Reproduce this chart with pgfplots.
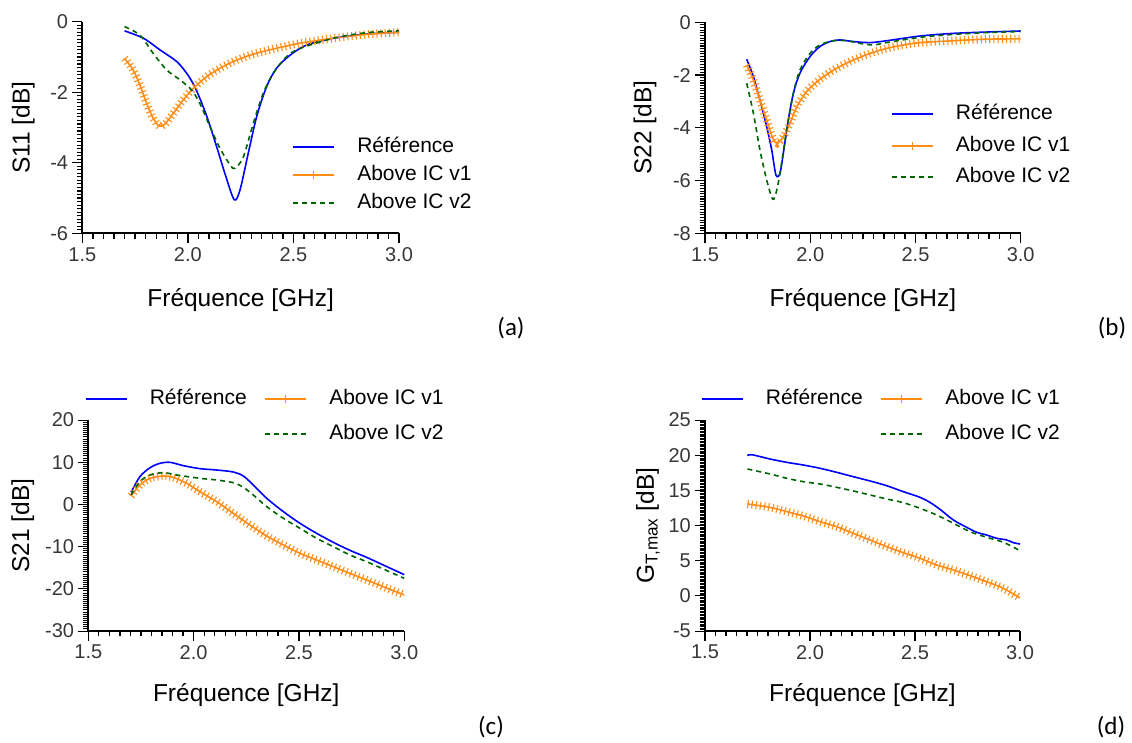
\documentclass[border=0pt]{standalone}
\usepackage{pgfplots}
\pgfplotsset{compat=1.18}
\usepackage{fontspec}
\setmainfont{Liberation Sans}
\newfontfamily\calib{Carlito}
\definecolor{cblue}{RGB}{0,0,255}
\definecolor{corange}{RGB}{255,140,20}
\definecolor{cgreen}{RGB}{0,100,0}
\definecolor{ctick}{RGB}{55,55,55}

\pgfplotsset{
 panel/.style={
  scale only axis, anchor=south west,
  axis x line*=bottom, axis y line*=left,
  xmin=1.5, xmax=3.0, xtick={1.5,2,2.5,3}, minor x tick num=9,
  /pgf/number format/assume math mode=true,
  xticklabel style={/pgf/number format/.cd, fixed, fixed zerofill, precision=1, /tikz/.cd, font=\fontsize{20}{24}\selectfont, text=ctick, inner sep=4pt},
  yticklabel style={font=\fontsize{20}{24}\selectfont, text=ctick, inner sep=4pt},
  xlabel={Fréquence [GHz]},
  label style={font=\fontsize{24.5}{29}\selectfont},
  xlabel style={at={(axis description cs:0.5,0)}, anchor=center},
  legend image code/.code={\draw[##1] (0pt,0pt) -- (41pt,0pt);},
  legend cell align=left,
  legend style={draw=none, fill=none, inner sep=0pt, font=\fontsize{21}{25}\selectfont, anchor=north west,
    nodes={inner sep=0pt, text height=15pt, text depth=4pt},
    /tikz/every odd column/.append style={column sep=22.5pt},
    /tikz/every even column/.append style={column sep=17.5pt}},
 },
 ref/.style={cblue, line width=1.6pt, smooth},
 vtwo/.style={cgreen, line width=1.6pt, dash pattern=on 5pt off 4pt, smooth},
 vone/.style={corange, line width=1.6pt, smooth,
   legend image code/.code={\draw[corange, line width=1.6pt] (0pt,0pt)--(41pt,0pt); \draw[corange,line width=1.1pt] (20.5pt,-4pt)--(20.5pt,4pt);}},
 vonebars/.style={corange, line width=8pt, dash pattern=on 1.1pt off 3.1pt, smooth, forget plot},
}

\begin{document}
\begin{tikzpicture}
\path[use as bounding box] (0pt,0pt) rectangle (1132pt,743pt);

% (a)
\begin{axis}[panel, at={(82.3pt,509.7pt)}, width=316.7pt, height=211.6pt,
  ymin=-6, ymax=0, ytick={-6,-4,-2,0}, minor y tick num=19,
  ylabel={S11 [dB]}, ylabel style={at={(axis description cs:-0.186,0.5)}, anchor=center},
  xlabel style={yshift=-67pt},
  legend style={at={(axis description cs:0.662,0.453)}, /tikz/row sep=9pt},
  tick align=outside, major tick length=10pt, minor tick length=5.5pt,
  x axis line style={line width=2pt, black}, y axis line style={line width=2pt, black},
  xtick style={black, line width=1.3pt}, ytick style={black, line width=1.1pt}]
\addplot[ref] coordinates {(1.70,-0.26)(1.79,-0.47)(1.868,-0.80)(1.947,-1.13)(2.0,-1.51)(2.04,-1.94)(2.09,-2.69)(2.136,-3.54)(2.18,-4.39)(2.22,-5.05)(2.247,-4.77)(2.286,-3.73)(2.326,-2.69)(2.373,-1.84)(2.42,-1.32)(2.484,-0.95)(2.563,-0.66)(2.689,-0.47)(2.847,-0.35)(3.0,-0.30)};
\addlegendentry{Référence}
\addplot[vone] coordinates {(1.70,-1.04)(1.741,-1.37)(1.773,-1.80)(1.805,-2.32)(1.836,-2.74)(1.865,-2.96)(1.892,-2.90)(1.931,-2.60)(1.978,-2.22)(2.026,-1.89)(2.089,-1.56)(2.152,-1.32)(2.215,-1.13)(2.294,-0.95)(2.373,-0.82)(2.452,-0.71)(2.531,-0.61)(2.689,-0.47)(2.847,-0.36)(3.0,-0.30)};
\addlegendentry{Above IC v1}
\addplot[vonebars] coordinates {(1.70,-1.04)(1.741,-1.37)(1.773,-1.80)(1.805,-2.32)(1.836,-2.74)(1.865,-2.96)(1.892,-2.90)(1.931,-2.60)(1.978,-2.22)(2.026,-1.89)(2.089,-1.56)(2.152,-1.32)(2.215,-1.13)(2.294,-0.95)(2.373,-0.82)(2.452,-0.71)(2.531,-0.61)(2.689,-0.47)(2.847,-0.36)(3.0,-0.30)};
\addplot[vtwo] coordinates {(1.70,-0.14)(1.773,-0.38)(1.836,-0.90)(1.90,-1.37)(1.963,-1.65)(2.018,-1.94)(2.057,-2.32)(2.105,-2.98)(2.152,-3.59)(2.20,-4.06)(2.223,-4.16)(2.263,-3.83)(2.31,-2.88)(2.357,-2.03)(2.405,-1.46)(2.468,-0.99)(2.531,-0.76)(2.689,-0.47)(2.847,-0.31)(3.0,-0.26)};
\addlegendentry{Above IC v2}
\end{axis}

% (b)
\begin{axis}[panel, at={(705pt,509.7pt)}, width=315.7pt, height=211pt,
  ymin=-8, ymax=0, ytick={-8,-6,-4,-2,0}, minor y tick num=19,
  ylabel={S22 [dB]}, ylabel style={at={(axis description cs:-0.190,0.5)}, anchor=center},
  xlabel style={yshift=-67pt},
  legend style={at={(axis description cs:0.588,0.610)}, /tikz/row sep=12.5pt},
  tick align=outside, major tick length=10pt, minor tick length=5.5pt,
  x axis line style={line width=2pt, black}, y axis line style={line width=2pt, black},
  xtick style={black, line width=1.3pt}, ytick style={black, line width=1.1pt}]
\addplot[ref] coordinates {(1.698,-1.40)(1.73,-2.06)(1.761,-2.95)(1.793,-3.96)(1.817,-4.84)(1.837,-5.79)(1.856,-5.73)(1.872,-4.97)(1.896,-3.70)(1.92,-2.69)(1.951,-1.93)(1.999,-1.30)(2.046,-0.92)(2.094,-0.73)(2.142,-0.67)(2.205,-0.73)(2.284,-0.77)(2.363,-0.70)(2.522,-0.52)(2.68,-0.42)(2.838,-0.37)(3.0,-0.33)};
\addlegendentry{Référence}
\addplot[vone] coordinates {(1.698,-1.62)(1.73,-2.19)(1.761,-2.95)(1.793,-3.70)(1.822,-4.40)(1.844,-4.59)(1.872,-4.34)(1.904,-3.83)(1.936,-3.20)(1.983,-2.63)(2.046,-2.16)(2.126,-1.74)(2.205,-1.43)(2.284,-1.18)(2.363,-0.99)(2.443,-0.86)(2.522,-0.77)(2.68,-0.70)(2.838,-0.64)(3.0,-0.63)};
\addlegendentry{Above IC v1}
\addplot[vonebars] coordinates {(1.698,-1.62)(1.73,-2.19)(1.761,-2.95)(1.793,-3.70)(1.822,-4.40)(1.844,-4.59)(1.872,-4.34)(1.904,-3.83)(1.936,-3.20)(1.983,-2.63)(2.046,-2.16)(2.126,-1.74)(2.205,-1.43)(2.284,-1.18)(2.363,-0.99)(2.443,-0.86)(2.522,-0.77)(2.68,-0.70)(2.838,-0.64)(3.0,-0.63)};
\addplot[vtwo] coordinates {(1.698,-2.31)(1.73,-3.45)(1.761,-4.84)(1.793,-5.98)(1.822,-6.71)(1.841,-6.36)(1.864,-5.35)(1.888,-4.08)(1.92,-2.69)(1.951,-1.81)(1.999,-1.18)(2.046,-0.86)(2.11,-0.70)(2.173,-0.70)(2.237,-0.80)(2.30,-0.86)(2.363,-0.77)(2.522,-0.57)(2.68,-0.46)(2.838,-0.39)(3.0,-0.35)};
\addlegendentry{Above IC v2}
\end{axis}

% (c)
\begin{axis}[panel, at={(88.3pt,112pt)}, width=316pt, height=211pt,
  ymin=-30, ymax=20, ytick={-30,-20,-10,0,10,20}, minor y tick num=19,
  ylabel={S21 [dB]}, ylabel style={at={(axis description cs:-0.207,0.5)}, anchor=center},
  xlabel style={yshift=-64pt},
  legend columns=2,
  legend style={at={(axis description cs:-0.012,1.146)}, /tikz/row sep=16pt},
  tick align=outside, major tick length=10pt, minor tick length=5.5pt,
  x axis line style={line width=2pt, black}, y axis line style={line width=2pt, black},
  xtick style={black, line width=1.3pt}, ytick style={black, line width=0.9pt}]
\addplot[ref] coordinates {(1.703,2.86)(1.745,6.57)(1.793,8.70)(1.84,9.73)(1.888,9.97)(1.951,9.18)(2.03,8.47)(2.109,8.15)(2.188,7.68)(2.236,6.73)(2.283,4.60)(2.347,1.44)(2.426,-1.72)(2.505,-4.49)(2.584,-6.86)(2.663,-8.99)(2.742,-10.89)(2.821,-12.54)(2.90,-14.36)(3.0,-16.65)};
\addlegendentry{Référence}
\addplot[vone] coordinates {(1.703,1.99)(1.745,4.60)(1.793,6.18)(1.856,6.73)(1.903,6.41)(1.967,4.99)(2.03,3.0)(2.109,0.65)(2.188,-2.12)(2.267,-4.88)(2.347,-7.49)(2.426,-9.62)(2.505,-11.60)(2.584,-13.18)(2.663,-14.76)(2.742,-16.34)(2.821,-17.92)(2.90,-19.49)(3.0,-21.47)};
\addlegendentry{Above IC v1}
\addplot[vonebars] coordinates {(1.703,1.99)(1.745,4.60)(1.793,6.18)(1.856,6.73)(1.903,6.41)(1.967,4.99)(2.03,3.0)(2.109,0.65)(2.188,-2.12)(2.267,-4.88)(2.347,-7.49)(2.426,-9.62)(2.505,-11.60)(2.584,-13.18)(2.663,-14.76)(2.742,-16.34)(2.821,-17.92)(2.90,-19.49)(3.0,-21.47)};
\addlegendimage{empty legend}
\addlegendentry{}
\addplot[vtwo] coordinates {(1.703,2.23)(1.745,5.39)(1.793,6.97)(1.856,7.52)(1.919,6.97)(2.03,6.18)(2.109,5.78)(2.188,5.15)(2.236,4.04)(2.283,2.23)(2.347,-0.54)(2.426,-3.30)(2.505,-5.67)(2.584,-8.04)(2.663,-10.02)(2.742,-11.99)(2.821,-13.57)(2.90,-15.31)(3.0,-17.52)};
\addlegendentry{Above IC v2}
\end{axis}

% (d)
\begin{axis}[panel, at={(705pt,112pt)}, width=315pt, height=211pt,
  ymin=-5, ymax=25, ytick={-5,0,5,10,15,20,25}, minor y tick num=24,
  ylabel={G\textsubscript{T,max} [dB]}, ylabel style={at={(axis description cs:-0.181,0.5)}, anchor=center},
  xlabel style={yshift=-64pt},
  legend columns=2,
  legend style={at={(axis description cs:-0.014,1.146)}, /tikz/row sep=16pt},
  tick align=outside, major tick length=10pt, minor tick length=5.5pt,
  x axis line style={line width=2pt, black}, y axis line style={line width=2pt, black},
  xtick style={black, line width=1.3pt}, ytick style={black, line width=0.8pt}]
\addplot[ref] coordinates {(1.702,19.93)(1.722,20.07)(1.81,19.45)(1.889,18.98)(1.968,18.60)(2.048,18.13)(2.127,17.56)(2.206,16.94)(2.286,16.33)(2.365,15.66)(2.444,14.81)(2.524,14.0)(2.571,13.29)(2.619,12.30)(2.683,10.78)(2.746,9.74)(2.794,9.03)(2.841,8.65)(2.889,8.18)(2.937,7.94)(2.968,7.56)(3.0,7.37)};
\addlegendentry{Référence}
\addplot[vone] coordinates {(1.702,13.06)(1.81,12.58)(1.889,11.97)(1.968,11.35)(2.048,10.55)(2.127,9.83)(2.206,8.89)(2.286,7.94)(2.365,7.0)(2.444,6.14)(2.524,5.33)(2.603,4.38)(2.683,3.67)(2.762,2.87)(2.841,2.01)(2.921,1.07)(3.0,-0.30)};
\addlegendentry{Above IC v1}
\addplot[vonebars] coordinates {(1.702,13.06)(1.81,12.58)(1.889,11.97)(1.968,11.35)(2.048,10.55)(2.127,9.83)(2.206,8.89)(2.286,7.94)(2.365,7.0)(2.444,6.14)(2.524,5.33)(2.603,4.38)(2.683,3.67)(2.762,2.87)(2.841,2.01)(2.921,1.07)(3.0,-0.30)};
\addlegendimage{empty legend}
\addlegendentry{}
\addplot[vtwo] coordinates {(1.702,18.03)(1.81,17.32)(1.889,16.71)(1.968,16.23)(2.048,15.90)(2.127,15.43)(2.206,14.91)(2.286,14.34)(2.365,13.77)(2.444,13.25)(2.524,12.44)(2.603,11.49)(2.683,10.31)(2.762,9.12)(2.841,8.32)(2.921,7.61)(3.0,6.42)};
\addlegendentry{Above IC v2}
\end{axis}

\node[font=\calib\fontsize{25}{30}\selectfont] at (511pt,415pt) {(a)};
\node[font=\calib\fontsize{25}{30}\selectfont] at (1112pt,415pt) {(b)};
\node[font=\calib\fontsize{25}{30}\selectfont] at (491pt,16pt) {(c)};
\node[font=\calib\fontsize{25}{30}\selectfont] at (1111pt,16pt) {(d)};
\end{tikzpicture}
\end{document}
